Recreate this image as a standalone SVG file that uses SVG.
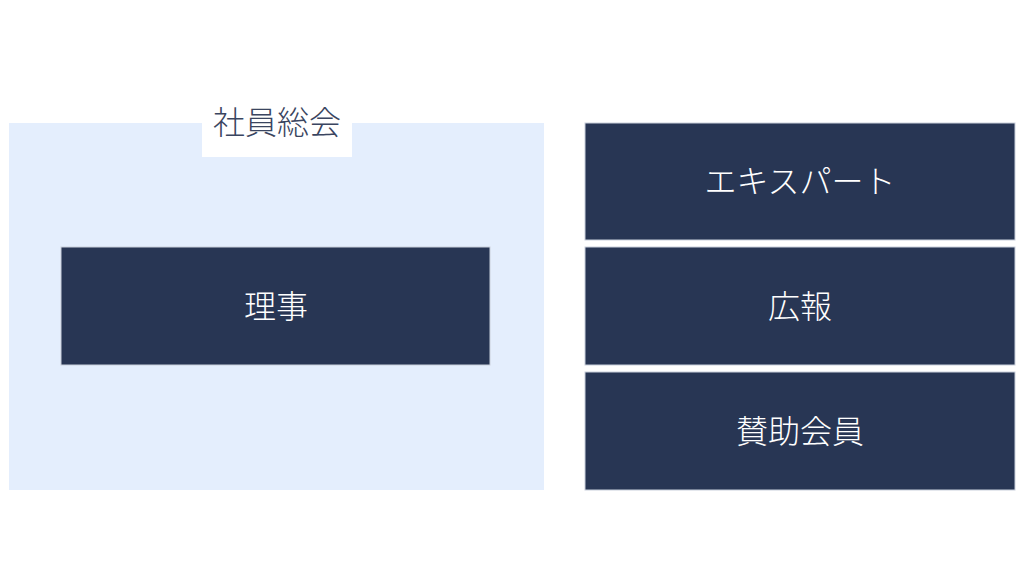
<svg xmlns="http://www.w3.org/2000/svg" width="1024" height="576" viewBox="0 0 1024 576">
<style>
.t{font-family:"Noto Sans CJK JP","Noto Sans",sans-serif;font-weight:300;font-size:32px;text-anchor:middle;dominant-baseline:central}
.dark{fill:#283654;stroke:#c9d0dc;stroke-width:1}
.w{fill:#ffffff}
</style>
<rect width="1024" height="576" fill="#ffffff"/>
<g id="shain-sokai">
<rect x="9" y="123" width="535" height="367" fill="#e4eefd"/>
<rect x="202" y="100" width="150" height="57" fill="#ffffff"/>
<text class="t" x="277" y="120" fill="#3a4560">社員総会</text>
</g>
<g id="riji">
<rect class="dark" x="61" y="247" width="429" height="118"/>
<text class="t w" x="276" y="304">理事</text>
</g>
<g id="expert">
<rect class="dark" x="585" y="123" width="430" height="117"/>
<text class="t w" x="800" y="179">エキスパート</text>
</g>
<g id="koho">
<rect class="dark" x="585" y="247" width="430" height="118"/>
<text class="t w" x="800" y="304">広報</text>
</g>
<g id="sanjo">
<rect class="dark" x="585" y="372" width="430" height="118"/>
<text class="t w" x="800" y="429">賛助会員</text>
</g>
<g id="connectors"/>
</svg>
